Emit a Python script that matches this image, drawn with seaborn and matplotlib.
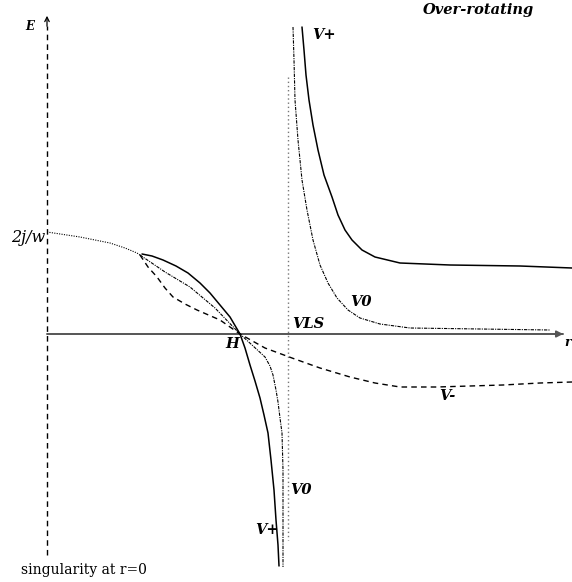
import matplotlib
matplotlib.use("Agg")
import matplotlib.pyplot as plt
import seaborn as sns

sns.set_style("white")
plt.rcParams['font.family'] = ['DejaVu Serif']
plt.rcParams['text.color'] = 'black'

# schematic curves, r along horizontal axis, E upward (units of 100 px, origin at r=0 / E=0)
# left plateau from 2j/w
r_top = [0.00, 0.33, 0.63, 0.78, 0.90, 0.93]
e_top = [1.02, 0.97, 0.91, 0.86, 0.81, 0.79]

# branches inside the light surface, meeting at H
r_vp_in = [0.95, 1.05, 1.16, 1.29, 1.41, 1.53, 1.63, 1.73, 1.83, 1.93,
           1.98, 2.03, 2.08, 2.13, 2.17, 2.21, 2.24, 2.27, 2.29, 2.31, 2.32]
e_vp_in = [0.80, 0.78, 0.74, 0.68, 0.61, 0.51, 0.41, 0.29, 0.17, 0.00,
           -0.14, -0.31, -0.47, -0.64, -0.81, -0.99, -1.26, -1.56, -1.86, -2.11, -2.32]

r_v0_in = [0.93, 1.18, 1.43, 1.68, 1.93, 2.05, 2.18, 2.23, 2.26, 2.29, 2.31, 2.33, 2.35, 2.36, 2.36, 2.36]
e_v0_in = [0.79, 0.62, 0.47, 0.26, 0.00, -0.11, -0.23, -0.32, -0.41, -0.56, -0.68, -0.84, -0.99, -1.36, -1.86, -2.33]

r_vm = [0.93, 1.01, 1.10, 1.18, 1.26, 1.38, 1.50, 1.73, 1.93, 2.18,
        2.45, 2.73, 3.03, 3.28, 3.53, 3.90, 4.23, 4.56, 4.93, 5.25]
e_vm = [0.79, 0.67, 0.57, 0.46, 0.37, 0.30, 0.24, 0.14, 0.00, -0.14,
        -0.24, -0.34, -0.43, -0.49, -0.53, -0.53, -0.52, -0.51, -0.49, -0.48]

# branches outside the light surface
r_vp_out = [2.55, 2.57, 2.59, 2.62, 2.66, 2.71, 2.77, 2.85, 2.91, 2.98, 3.05, 3.15, 3.28, 3.53, 4.03, 4.73, 5.25]
e_vp_out = [3.07, 2.84, 2.59, 2.34, 2.09, 1.84, 1.59, 1.37, 1.19, 1.04, 0.94, 0.84, 0.77, 0.71, 0.69, 0.68, 0.66]

r_v0_out = [2.46, 2.47, 2.48, 2.51, 2.55, 2.60, 2.66, 2.73, 2.81, 2.90, 3.01, 3.13, 3.33, 3.63, 4.33, 5.03]
e_v0_out = [3.07, 2.74, 2.34, 1.94, 1.54, 1.24, 0.94, 0.69, 0.51, 0.36, 0.24, 0.16, 0.10, 0.06, 0.05, 0.04]

r_vls = 2.41
e_vls = [2.57, -2.06]

fig = plt.figure(figsize=(5.72, 5.82), dpi=100)
ax = fig.add_axes([0, 0, 1, 1])
ax.set_xlim(-0.47, 5.25)
ax.set_ylim(-2.48, 3.34)
ax.axis('off')

# axes of the diagram
ax.plot([0, 5.16], [0, 0], color='#555555', lw=1.4)
ax.annotate('', xy=(5.19, 0), xytext=(5.05, 0),
            arrowprops=dict(arrowstyle='-|>', color='#555555', lw=1.2, mutation_scale=10))
ax.plot([0, 0], [-2.21, 3.08], color='black', lw=1.0, ls=(0, (4, 3)))
ax.annotate('', xy=(0, 3.21), xytext=(0, 3.05),
            arrowprops=dict(arrowstyle='->', color='black', lw=0.9, mutation_scale=8))

# light surface
ax.plot([r_vls, r_vls], e_vls, color='#777777', lw=1.0, ls=(0, (1, 2)))

sns.lineplot(x=r_top, y=e_top, ax=ax, sort=False, estimator=None, color='black', lw=0.8, ls=(0, (1, 1.2)))
sns.lineplot(x=r_vp_in, y=e_vp_in, ax=ax, sort=False, estimator=None, color='black', lw=1.1)
sns.lineplot(x=r_v0_in, y=e_v0_in, ax=ax, sort=False, estimator=None, color='black', lw=0.8, ls=(0, (3, 1, 1, 1)))
sns.lineplot(x=r_vm, y=e_vm, ax=ax, sort=False, estimator=None, color='black', lw=1.0, ls=(0, (4, 3)))
sns.lineplot(x=r_vp_out, y=e_vp_out, ax=ax, sort=False, estimator=None, color='black', lw=1.1)
sns.lineplot(x=r_v0_out, y=e_v0_out, ax=ax, sort=False, estimator=None, color='black', lw=0.8, ls=(0, (3, 1, 1, 1)))

bi = dict(fontweight='bold', fontstyle='italic', fontsize=10.5, color='black')
ax.text(-0.17, 3.07, 'E', fontstyle='italic', fontweight='bold', fontsize=8.5, ha='center', va='center')
ax.text(4.32, 3.24, 'Over-rotating', ha='center', va='center', **bi)
ax.text(-0.02, 0.97, '2j/w', fontstyle='italic', fontsize=11.5, ha='right', va='center')
ax.text(2.45, 0.10, 'VLS', ha='left', va='center', **bi)
ax.text(1.85, -0.10, 'H', ha='center', va='center', **bi)
ax.text(2.65, 2.99, 'V+', ha='left', va='center', **bi)
ax.text(3.03, 0.32, 'V0', ha='left', va='center', **bi)
ax.text(3.92, -0.62, 'V-', ha='left', va='center', **bi)
ax.text(2.43, -1.56, 'V0', ha='left', va='center', **bi)
ax.text(2.08, -1.96, 'V+', ha='left', va='center', **bi)
ax.text(5.17, -0.09, 'r', fontstyle='italic', fontweight='bold', fontsize=9, ha='left', va='center')
ax.text(0.37, -2.36, 'singularity at r=0', fontsize=10, ha='center', va='center')

fig.savefig('out.png', dpi=100)
